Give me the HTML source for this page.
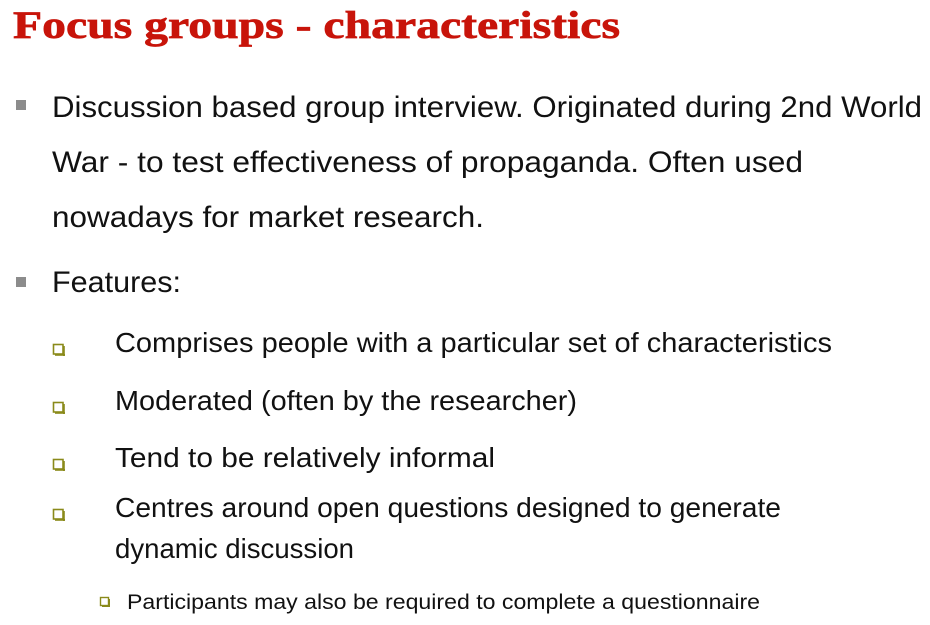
<!DOCTYPE html>
<html><head><meta charset="utf-8"><style>
html,body{margin:0;padding:0;background:#fff;width:930px;height:625px;overflow:hidden}
svg{display:block}
.t{font-family:"Liberation Sans",sans-serif;fill:#111}
</style></head><body>
<svg width="930" height="625">
<text x="13" y="38" font-family="Liberation Serif,serif" font-weight="bold" font-size="39" fill="#c8140a" stroke="#c8140a" stroke-width="0.7" textLength="607" lengthAdjust="spacingAndGlyphs">Focus groups - characteristics</text>

<rect x="16" y="100" width="10" height="10" fill="#8c8c8c"/>
<text class="t" x="52" y="117" font-size="30" textLength="870" lengthAdjust="spacingAndGlyphs">Discussion based group interview. Originated during 2nd World</text>
<text class="t" x="52" y="172" font-size="30" textLength="751" lengthAdjust="spacingAndGlyphs">War - to test effectiveness of propaganda. Often used</text>
<text class="t" x="52" y="227" font-size="30" textLength="432" lengthAdjust="spacingAndGlyphs">nowadays for market research.</text>

<rect x="16" y="277" width="10" height="10" fill="#8c8c8c"/>
<text class="t" x="52" y="292" font-size="30" textLength="129" lengthAdjust="spacingAndGlyphs">Features:</text>

<g><rect x="53.5" y="344.5" width="9.5" height="9.5" fill="#fff" stroke="#8a8a1a" stroke-width="1.6"/><rect x="55" y="354" width="10" height="1.8" fill="#8a8a1a"/><rect x="63" y="346" width="1.8" height="10" fill="#8a8a1a"/></g>
<text class="t" x="115" y="352" font-size="28" textLength="717" lengthAdjust="spacingAndGlyphs">Comprises people with a particular set of characteristics</text>

<g><rect x="53.5" y="402.5" width="9.5" height="9.5" fill="#fff" stroke="#8a8a1a" stroke-width="1.6"/><rect x="55" y="412" width="10" height="1.8" fill="#8a8a1a"/><rect x="63" y="404" width="1.8" height="10" fill="#8a8a1a"/></g>
<text class="t" x="115" y="410" font-size="28" textLength="462" lengthAdjust="spacingAndGlyphs">Moderated (often by the researcher)</text>

<g><rect x="53.5" y="459.5" width="9.5" height="9.5" fill="#fff" stroke="#8a8a1a" stroke-width="1.6"/><rect x="55" y="469" width="10" height="1.8" fill="#8a8a1a"/><rect x="63" y="461" width="1.8" height="10" fill="#8a8a1a"/></g>
<text class="t" x="115" y="467" font-size="28" textLength="380" lengthAdjust="spacingAndGlyphs">Tend to be relatively informal</text>

<g><rect x="53.5" y="509.5" width="9.5" height="9.5" fill="#fff" stroke="#8a8a1a" stroke-width="1.6"/><rect x="55" y="519" width="10" height="1.8" fill="#8a8a1a"/><rect x="63" y="511" width="1.8" height="10" fill="#8a8a1a"/></g>
<text class="t" x="115" y="517" font-size="28" textLength="666" lengthAdjust="spacingAndGlyphs">Centres around open questions designed to generate</text>
<text class="t" x="115" y="558" font-size="28" textLength="239" lengthAdjust="spacingAndGlyphs">dynamic discussion</text>

<g><rect x="100.5" y="597.5" width="8" height="8" fill="#fff" stroke="#8a8a1a" stroke-width="1.4"/><rect x="102" y="605.5" width="8" height="1.5" fill="#8a8a1a"/><rect x="108.5" y="599" width="1.5" height="8" fill="#8a8a1a"/></g>
<text class="t" x="127" y="609" font-size="21" textLength="633" lengthAdjust="spacingAndGlyphs">Participants may also be required to complete a questionnaire</text>
</svg>
</body></html>
